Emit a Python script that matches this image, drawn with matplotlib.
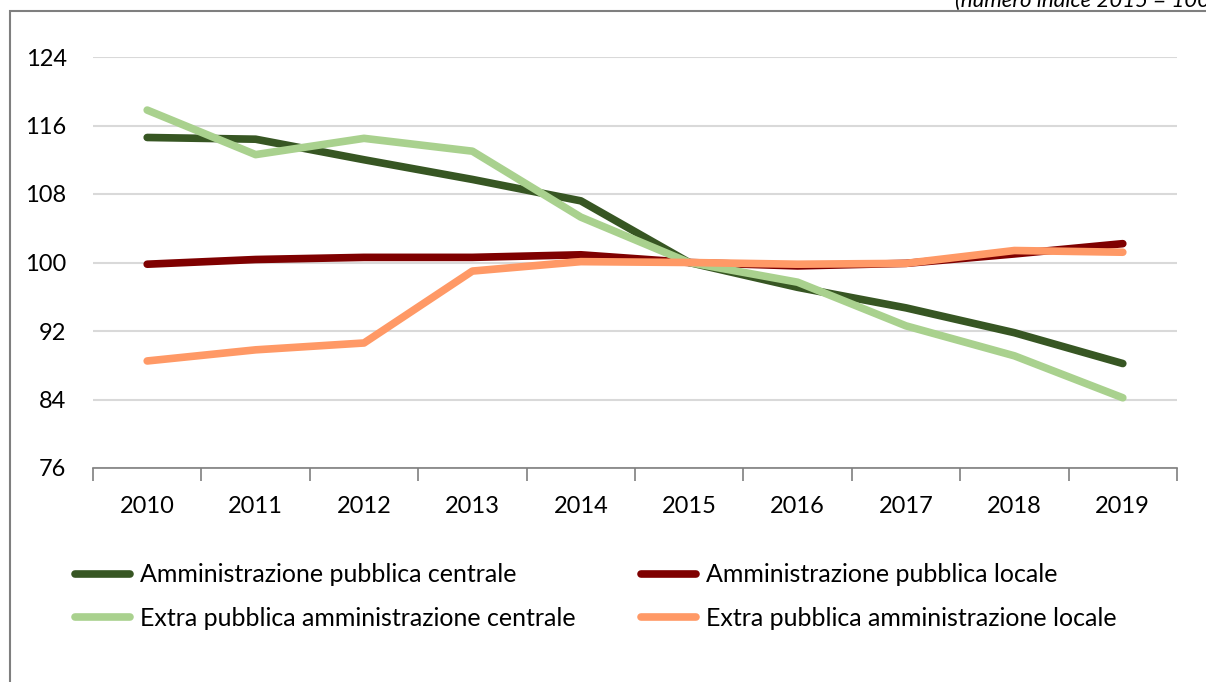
import matplotlib
matplotlib.use("Agg")
import matplotlib.pyplot as plt
from matplotlib.patches import Rectangle

years = [2010, 2011, 2012, 2013, 2014, 2015, 2016, 2017, 2018, 2019]
ap_centrale = [114.6, 114.4, 112.0, 109.7, 107.2, 100.0, 97.1, 94.7, 91.8, 88.2]
ap_locale = [99.8, 100.35, 100.6, 100.6, 100.9, 100.0, 99.6, 99.9, 101.0, 102.2]
extra_centrale = [117.8, 112.6, 114.5, 113.0, 105.3, 100.0, 97.7, 92.6, 89.1, 84.2]
extra_locale = [88.5, 89.8, 90.6, 99.0, 100.1, 100.0, 99.8, 99.9, 101.4, 101.2]
yticks = [76, 84, 92, 100, 108, 116, 124]
labels = ["Amministrazione pubblica centrale", "Amministrazione pubblica locale",
          "Extra pubblica amministrazione centrale", "Extra pubblica amministrazione locale"]
colors = ["#375623", "#7F0000", "#A9D18E", "#FF9966"]
note = "(numero indice 2015 = 100)"

plt.rcParams['font.family'] = ['Lato', 'DejaVu Sans']

fig = plt.figure(figsize=(12.06, 6.82), dpi=100)
W, H = 1206, 682
ax = fig.add_axes([93 / W, 1 - 468 / H, (1177 - 93) / W, (468 - 57) / H])

series = [ap_centrale, ap_locale, extra_centrale, extra_locale]
handles = []
for vals, c, lab in zip(series, colors, labels):
    h, = ax.plot(years, vals, color=c, lw=5.5, solid_capstyle='round',
                 solid_joinstyle='round', label=lab, zorder=3)
    handles.append(h)

ax.set_xlim(years[0] - 0.5, years[-1] + 0.5)
ax.set_ylim(yticks[0], yticks[-1])
ax.set_yticks(yticks)
ax.set_yticklabels([str(v) for v in yticks], fontsize=17)
ax.yaxis.grid(True, color="#D9D9D9", lw=1.5)
ax.set_axisbelow(True)
ax.tick_params(axis='y', length=0, pad=19)

ax.set_xticks(years)
ax.set_xticklabels([str(y) for y in years], fontsize=17)
ax.set_xticks([y + 0.5 for y in [years[0] - 1] + years], minor=True)
ax.tick_params(axis='x', which='major', length=0, pad=20)
ax.tick_params(axis='x', which='minor', length=9, width=1.2, color="#7F7F7F", direction='out')

for s in ['top', 'right', 'left']:
    ax.spines[s].set_visible(False)
ax.spines['bottom'].set_color("#7F7F7F")
ax.spines['bottom'].set_linewidth(1.2)

# row-major order for a 2-column legend
order = [0, 2, 1, 3]
leg = fig.legend(handles=[handles[i] for i in order], labels=[labels[i] for i in order],
                 ncol=2, loc='upper left',
                 bbox_to_anchor=(52 / W, 1 - 541 / H), frameon=False, fontsize=18,
                 handlelength=2.2, handletextpad=0.4, columnspacing=2.64,
                 labelspacing=0.82)

# outer frame (partially visible)
fig.patches.append(Rectangle((10 / W, -0.1), 1.2, 1 - 11 / H + 0.1, transform=fig.transFigure,
                             fill=False, edgecolor="#7F7F7F", lw=1.5, zorder=0))

fig.text(955 / W, 1 - 7 / H, note, fontsize=16, style='italic', ha='left', va='baseline')

fig.savefig("out.png", dpi=100)
